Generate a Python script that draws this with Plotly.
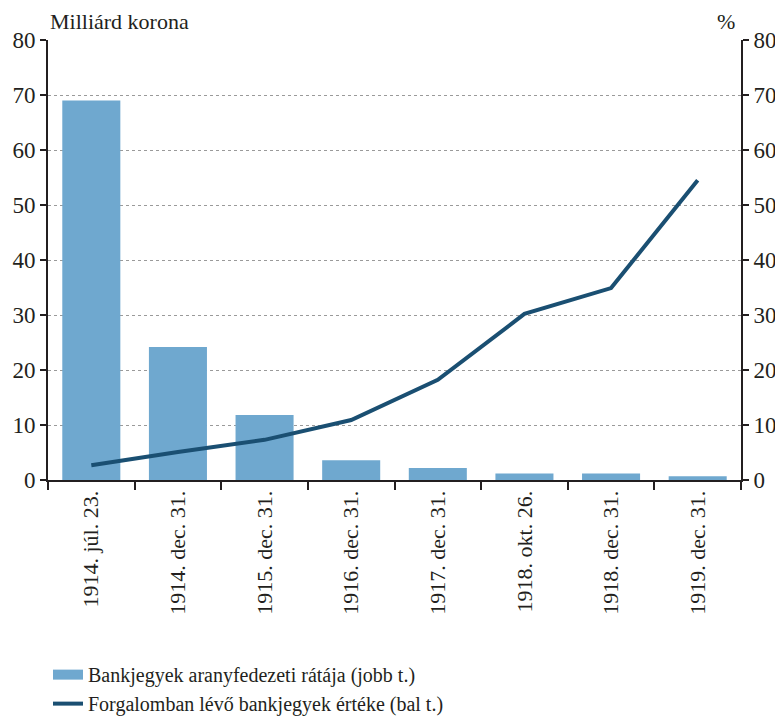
import plotly.graph_objects as go

categories = ["1914. júl. 23.", "1914. dec. 31.", "1915. dec. 31.", "1916. dec. 31.",
              "1917. dec. 31.", "1918. okt. 26.", "1918. dec. 31.", "1919. dec. 31."]
gold_ratio = [69.0, 24.2, 11.8, 3.6, 2.2, 1.2, 1.2, 0.7]
notes_value = [2.7, 5.1, 7.3, 10.9, 18.2, 30.2, 34.9, 54.5]
tick_vals = [0, 10, 20, 30, 40, 50, 60, 70, 80]

FONT = "Times New Roman"
TXT = "#231f20"
BAR_C = "#6fa8cf"
LINE_C = "#1a4f72"

fig = go.Figure()
fig.add_trace(go.Bar(
    x=categories, y=gold_ratio, yaxis="y",
    name="Bankjegyek aranyfedezeti rátája (jobb t.)",
    marker=dict(color=BAR_C, line=dict(width=0)),
    width=0.67, showlegend=False,
))
fig.add_trace(go.Scatter(
    x=[None], y=[None], yaxis="y", mode="lines",
    name="Bankjegyek aranyfedezeti rátája (jobb t.)",
    line=dict(color=BAR_C, width=12),
))
fig.add_trace(go.Scatter(
    x=categories, y=notes_value, yaxis="y2", mode="lines",
    name="Forgalomban lévő bankjegyek értéke (bal t.)",
    line=dict(color=LINE_C, width=4),
))

axis_common = dict(
    range=[0, 80], tickvals=tick_vals, showline=True, linecolor=TXT, linewidth=2,
    ticks="outside", ticklen=6, tickwidth=2, tickcolor=TXT,
    tickfont=dict(family=FONT, size=23, color=TXT),
    zeroline=False, fixedrange=True, automargin=False,
)

fig.update_layout(
    width=775, height=709,
    margin=dict(l=40, r=42, t=32, b=237, autoexpand=False),
    paper_bgcolor="white", plot_bgcolor="white",
    font=dict(family=FONT, size=22, color=TXT),
    xaxis=dict(
        type="category", showline=True, linecolor=TXT, linewidth=2,
        ticks="outside", ticklen=8, tickwidth=2, tickcolor=TXT,
        tickson="boundaries", tickangle=-90, automargin=False,
        tickfont=dict(family=FONT, size=22, color=TXT),
        showgrid=False,
    ),
    yaxis=dict(side="right", showgrid=True, gridcolor="#9a9a9a", griddash="dot", gridwidth=1,
               **axis_common),
    yaxis2=dict(side="left", overlaying="y", showgrid=False, **axis_common),
    legend=dict(
        orientation="v", x=0.0, xanchor="left", y=-0.398, yanchor="top",
        font=dict(family=FONT, size=20, color=TXT), tracegroupgap=0,
        bgcolor="rgba(0,0,0,0)",
    ),
    annotations=[
        dict(text="Milliárd korona", x=0, xref="paper", xanchor="left",
             y=1, yref="paper", yanchor="bottom", yshift=4, showarrow=False,
             font=dict(family=FONT, size=22, color=TXT)),
        dict(text="%", x=1, xref="paper", xanchor="right",
             y=1, yref="paper", yanchor="bottom", yshift=4, xshift=-4, showarrow=False,
             font=dict(family=FONT, size=22, color=TXT)),
    ],
)

fig.write_html("out.html")
